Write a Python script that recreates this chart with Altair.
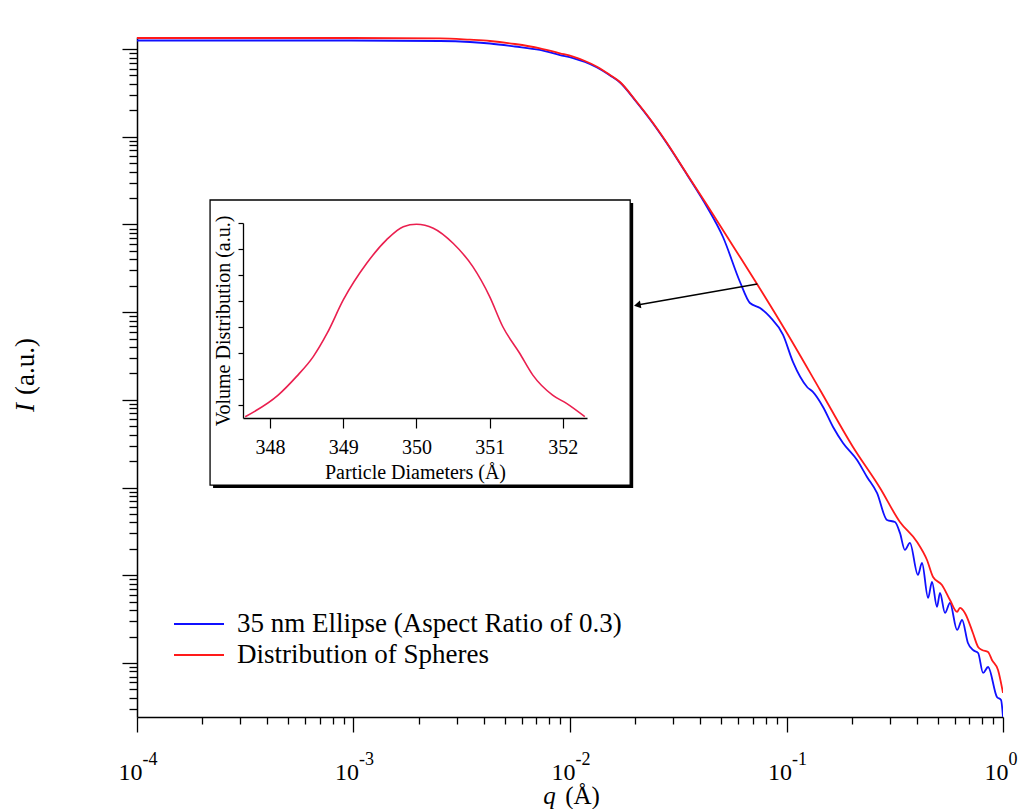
import altair as alt
import pandas as pd

FONT = "Liberation Serif"

# Scattering curves: q in 1/Angstrom, intensity in arbitrary units
q_sphere = [1.0e-4, 3.327e-4, 9.64e-4, 2.512e-3, 3.45e-3, 4.27e-3, 5.57e-3, 7.26e-3,
            8.99e-3, 1.033e-2, 1.172e-2, 1.333e-2, 1.531e-2, 1.702e-2, 2.018e-2,
            2.344e-2, 2.805e-2, 3.467e-2, 4.295e-2, 5.66e-2, 7.31e-2, 0.1005, 0.1429,
            0.2028, 0.2704, 0.3342, 0.401, 0.4457, 0.4753, 0.5224, 0.5689, 0.6137,
            0.6324, 0.6668, 0.7261, 0.7674, 0.800, 0.8531, 0.8892, 0.9484, 1.0]
I_sphere = [1.338e7, 1.338e7, 1.338e7, 1.328e7, 1.280e7, 1.237e7, 1.143e7, 1.021e7,
            8.96e6, 8.19e6, 7.31e6, 6.30e6, 5.07e6, 4.22e6, 2.56e6,
            1.596e6, 8.50e5, 3.77e5, 1.669e5, 5.69e4, 2.097e4, 5.79e3, 1.297e3,
            290.4, 98.9, 40.5, 23.98, 14.94, 9.56, 7.75, 5.23, 3.82,
            4.24, 3.72, 2.198, 1.522, 1.407, 1.335, 1.082, 0.832, 0.455]

q_ellipse = [1.0e-4, 9.64e-4, 2.512e-3, 3.45e-3, 4.27e-3, 5.57e-3, 7.26e-3, 8.99e-3,
             1.033e-2, 1.172e-2, 1.333e-2, 1.531e-2, 1.702e-2, 2.018e-2, 2.344e-2,
             2.805e-2, 3.467e-2, 4.295e-2, 5.09e-2, 6.10e-2, 6.78e-2, 7.55e-2, 8.39e-2,
             9.64e-2, 0.1071, 0.1245, 0.1324, 0.1475, 0.1641, 0.1824, 0.2118, 0.2355,
             0.2618, 0.2911, 0.3170, 0.3342, 0.3524, 0.3715, 0.4046, 0.4225, 0.4508,
             0.4699, 0.4955, 0.5117, 0.5395, 0.5689, 0.6137, 0.6471, 0.6887, 0.7261,
             0.7674, 0.8091, 0.8531, 0.9376, 0.9795, 1.0]
I_ellipse = [1.253e7, 1.253e7, 1.237e7, 1.205e7, 1.159e7, 1.071e7, 9.77e6, 8.56e6,
             7.91e6, 7.13e6, 6.17e6, 5.00e6, 4.16e6, 2.53e6, 1.575e6,
             8.39e5, 3.72e5, 1.583e5, 7.20e4, 2.21e4, 1.273e4, 1.117e4, 8.82e3,
             5.50e3, 2.71e3, 1.403e3, 1.231e3, 830, 491, 322.6, 206.4, 132.1,
             86.8, 42.7, 40.5, 30.4, 19.43, 23.35, 10.08, 13.81, 5.51,
             8.39, 4.35, 6.28, 3.72, 4.83, 2.378, 3.09, 1.69, 1.407,
             1.30, 0.769, 0.900, 0.4095, 0.3786, 0.242]

ellipse_label = "35 nm Ellipse (Aspect Ratio of 0.3)"
sphere_label = "Distribution of Spheres"

# Inset: volume distribution of particle diameters
diameters = [347.66, 348.11, 348.36, 348.59, 348.78, 349.00, 349.32, 349.59, 349.82,
             350.00, 350.23, 350.50, 350.77, 351.00, 351.18, 351.41, 351.59, 351.86,
             352.05, 352.30]
volume = [0.55, 1.38, 2.09, 2.86, 3.76, 5.04, 6.45, 7.35, 7.86,
          7.95, 7.80, 7.22, 6.32, 5.17, 4.01, 2.99, 2.15, 1.38,
          1.06, 0.55]

# Axis ranges and ticks
q_domain = [1e-4, 1.0]
I_domain = [0.242, 1.374e7]
q_decades = [1e-4, 1e-3, 1e-2, 1e-1, 1.0]
q_ticks = [m * 10.0 ** e for e in range(-4, 0) for m in range(1, 10)] + [1.0]
I_ticks = [m * 10.0 ** e for e in range(-1, 8) for m in range(1, 10)
           if I_domain[0] <= m * 10.0 ** e <= I_domain[1]]
d_domain = [347.63, 352.33]
d_ticks = [348, 349, 350, 351, 352]
v_domain = [0.5, 8.0]
v_ticks = [1, 2, 3, 4, 5, 6, 7, 8]

# Arrow from the sphere curve to the inset
arrow_q = [0.0733, 0.02047]
arrow_I = [2.1e4, 1.208e4]

# Inset frame, in inset data units
frame_d = [347.18, 352.92]
frame_v = [-2.08, 8.885]
shadow_shift = [0.041, -0.115]

W, H = 866, 680
DEC = "abs(log(datum.value)/LN10 - round(log(datum.value)/LN10)) < 1e-6"

curves = pd.concat([
    pd.DataFrame({"q": q_ellipse, "I": I_ellipse, "series": ellipse_label, "order": range(len(q_ellipse))}),
    pd.DataFrame({"q": q_sphere, "I": I_sphere, "series": sphere_label, "order": range(len(q_sphere))}),
])

xs_main = alt.Scale(type="log", domain=q_domain, nice=False)
ys_main = alt.Scale(type="log", domain=I_domain, nice=False)

x_axis_main = alt.Axis(
    orient="bottom", values=q_ticks, labelExpr=f"{DEC} ? '10' : ''",
    tickSize={"condition": {"test": DEC, "value": 15}, "value": 7},
    tickColor="black", tickWidth=1.3, domainColor="black", domainWidth=1.5,
    labelFont=FONT, labelFontSize=24, labelColor="black", labelOffset=-7,
    labelBaseline="alphabetic", labelPadding=47, labelFlush=False, labelOverlap=False,
    grid=False, title="(Å)", titleFont=FONT, titleFontSize=25, titleFontWeight="normal",
    titleColor="black", titleX=445, titleY=86, titleBaseline="alphabetic", titleAlign="center",
)
y_axis_main = alt.Axis(
    orient="left", values=I_ticks, labels=False,
    tickSize={"condition": {"test": DEC, "value": 15}, "value": 8},
    tickColor="black", tickWidth=1.3, domainColor="black", domainWidth=1.5, grid=False,
    title="(a.u.)", titleFont=FONT, titleFontSize=27, titleFontWeight="normal",
    titleColor="black", titleX=-104, titleY=329, titleAngle=270,
    titleBaseline="alphabetic", titleAlign="center",
)

lines = alt.Chart(curves).mark_line(strokeWidth=1.8, clip=True, interpolate="monotone").encode(
    x=alt.X("q:Q", scale=xs_main, axis=x_axis_main),
    y=alt.Y("I:Q", scale=ys_main, axis=y_axis_main),
    order="order:Q",
    color=alt.Color(
        "series:N",
        scale=alt.Scale(domain=[ellipse_label, sphere_label], range=["#1010ff", "#ff1a1a"]),
        legend=alt.Legend(
            orient="none", legendX=36, legendY=572, title=None, symbolType="stroke",
            symbolSize=2500, symbolStrokeWidth=2, labelFont=FONT, labelFontSize=27,
            labelColor="black", labelOffset=12, rowPadding=1, clipHeight=30,
            padding=0, labelLimit=600,
        ),
    ),
)

arrow_df = pd.DataFrame({"q": [arrow_q[0]], "I": [arrow_I[0]], "q2": [arrow_q[1]], "I2": [arrow_I[1]]})
arrow_line = alt.Chart(arrow_df).mark_rule(color="black", strokeWidth=1.5).encode(
    x=alt.X("q:Q", scale=xs_main), y=alt.Y("I:Q", scale=ys_main), x2="q2:Q", y2="I2:Q"
)
arrow_head = alt.Chart(arrow_df).mark_point(
    shape="triangle-left", filled=True, color="black", size=60, angle=349, opacity=1
).encode(x=alt.X("q2:Q", scale=xs_main), y=alt.Y("I2:Q", scale=ys_main))

main = alt.layer(lines, arrow_line, arrow_head)

# exponent labels and italic symbols of the axis titles
exp_df = pd.DataFrame({"q": q_decades, "I": [1.0] * len(q_decades)})
exponents = alt.Chart(exp_df).mark_point(opacity=0).encode(
    x=alt.X("q:Q", scale=alt.Scale(type="log", domain=q_domain, nice=False), axis=alt.Axis(
        orient="bottom", values=q_decades, labelExpr="'' + round(log(datum.value)/LN10)",
        ticks=False, domain=False, grid=False, labelFont=FONT, labelFontSize=18,
        labelColor="black", labelAlign="left", labelOffset=5, labelBaseline="alphabetic",
        labelPadding=47, labelFlush=False, labelOverlap=False,
        title="q", titleFont=FONT, titleFontSize=25, titleFontStyle="italic",
        titleFontWeight="normal", titleColor="black", titleX=412, titleY=86,
        titleBaseline="alphabetic", titleAlign="center",
    )),
    y=alt.Y("I:Q", scale=alt.Scale(type="log", domain=I_domain, nice=False), axis=alt.Axis(
        orient="left", labels=False, ticks=False, domain=False, grid=False,
        title="I", titleFont=FONT, titleFontSize=27, titleFontStyle="italic",
        titleFontWeight="normal", titleColor="black", titleX=-104, titleY=370,
        titleAngle=270, titleBaseline="alphabetic", titleAlign="center",
    )),
)

# inset panel
xs_in = alt.Scale(domain=d_domain, range=[106, 450], nice=False, zero=False)
ys_in = alt.Scale(domain=v_domain, range=[381, 186], nice=False, zero=False)

x_axis_in = alt.Axis(
    orient="bottom", offset=-(H - 381), values=d_ticks, format="d", zindex=1,
    tickSize=10, tickColor="black", tickWidth=1.2, domainColor="black", domainWidth=1.3,
    labelFont=FONT, labelFontSize=20, labelColor="black", labelPadding=9,
    grid=False, title="Particle Diameters (Å)", titleFont=FONT, titleFontSize=20,
    titleFontWeight="normal", titleColor="black", titlePadding=5,
)
y_axis_in = alt.Axis(
    orient="left", offset=-106, values=v_ticks, labels=False, zindex=1,
    tickSize=5, tickColor="black", tickWidth=1.2, domainColor="black", domainWidth=1.3,
    grid=False, title="Volume Distribution (a.u.)", titleFont=FONT, titleFontSize=20,
    titleFontWeight="normal", titleColor="black", titlePadding=4,
)

frame_df = pd.DataFrame({"d": [frame_d[0]], "d2": [frame_d[1]], "v": [frame_v[0]], "v2": [frame_v[1]]})
shadow_df = pd.DataFrame({"d": [frame_d[0] + shadow_shift[0]], "d2": [frame_d[1] + shadow_shift[0]],
                          "v": [frame_v[0] + shadow_shift[1]], "v2": [frame_v[1] + shadow_shift[1]]})

shadow = alt.Chart(shadow_df).mark_rect(color="black").encode(
    x=alt.X("d:Q", scale=xs_in, axis=x_axis_in), x2="d2:Q",
    y=alt.Y("v:Q", scale=ys_in, axis=y_axis_in), y2="v2:Q",
)
frame = alt.Chart(frame_df).mark_rect(fill="white", stroke="black", strokeWidth=1.3).encode(
    x=alt.X("d:Q", scale=xs_in, axis=x_axis_in), x2="d2:Q",
    y=alt.Y("v:Q", scale=ys_in, axis=y_axis_in), y2="v2:Q",
)
dist_df = pd.DataFrame({"d": diameters, "v": volume})
dist = alt.Chart(dist_df).mark_line(color="#ea1f4f", strokeWidth=1.6, interpolate="monotone").encode(
    x=alt.X("d:Q", scale=xs_in, axis=x_axis_in),
    y=alt.Y("v:Q", scale=ys_in, axis=y_axis_in),
)
inset = alt.layer(shadow, frame, dist)

chart = alt.layer(main, exponents, inset).resolve_scale(
    x="independent", y="independent", color="independent"
).properties(
    width=W, height=H, autosize="none",
    padding={"left": 137, "top": 37, "right": 24, "bottom": 92},
    background="white",
).configure_view(stroke=None)

chart.save("out.html", embed_options={"renderer": "svg", "actions": False})
